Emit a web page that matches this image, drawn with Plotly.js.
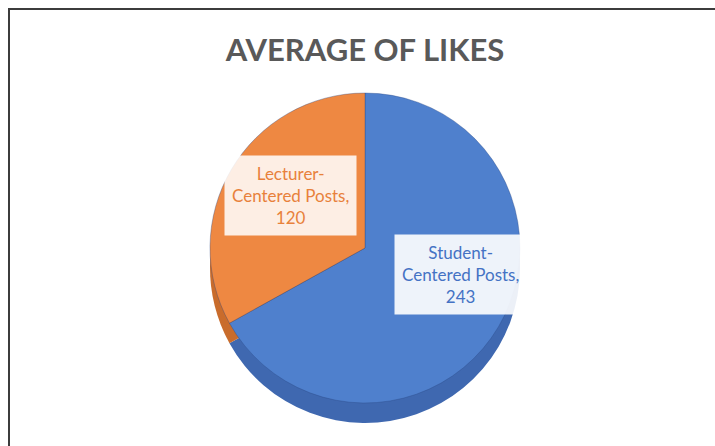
<!DOCTYPE html>
<html>
<head>
<meta charset="utf-8">
<script src="https://cdn.plot.ly/plotly-3.0.1.min.js"></script>
<style>
  html, body { margin: 0; padding: 0; background: #ffffff; }
  #chart { width: 715px; height: 446px; }
</style>
</head>
<body>
<div id="chart"></div>
<script>
// ---- data ----
const categories = ["Student-Centered Posts", "Lecturer-Centered Posts"];
const labelLines = [["Student-", "Centered Posts,"], ["Lecturer-", "Centered Posts,"]];
const avgLikes = [243, 120];
const chartTitle = "AVERAGE OF LIKES";

// ---- styles ----
const topColors = ["#4F80CD", "#EE8842"];
const sideColors = ["#3F68B0", "#C96C2C"];
const textColors = ["#4472C4", "#E8813B"];

const W = 715, H = 446;
const cx = 365, cyTop = 248, diam = 310, depth = 20;
function dom(cy) {
  return {
    x: [(cx - diam / 2) / W, (cx + diam / 2) / W],
    y: [1 - (cy + diam / 2) / H, 1 - (cy - diam / 2) / H]
  };
}

const common = {
  type: "pie",
  labels: categories,
  values: avgLikes,
  sort: false,
  direction: "clockwise",
  rotation: 0,
  textinfo: "none",
  hoverinfo: "label+value",
  showlegend: false
};

const sideTrace = Object.assign({}, common, {
  domain: dom(cyTop + depth),
  marker: { colors: sideColors, line: { width: 0 } }
});
const faceTrace = Object.assign({}, common, {
  domain: dom(cyTop),
  marker: { colors: topColors, line: { color: "rgba(40,70,130,0.35)", width: 1 } }
});

const labelPos = [[461 / W, 1 - 274 / H], [290 / W, 1 - 196 / H]];
const annotations = categories.map((c, i) => ({
  xref: "paper", yref: "paper",
  x: labelPos[i][0], y: labelPos[i][1],
  xanchor: "center", yanchor: "middle",
  showarrow: false,
  text: labelLines[i].join("<br>") + "<br>" + avgLikes[i],
  font: { family: "Lato, 'Noto Sans', sans-serif", size: 17, color: textColors[i] },
  align: "center",
  bgcolor: i === 0 ? "rgba(255,255,255,0.9)" : "rgba(255,255,255,0.86)",
  borderpad: 7
}));

const layout = {
  width: W, height: H,
  margin: { l: 0, r: 0, t: 0, b: 0 },
  paper_bgcolor: "#ffffff",
  title: {
    text: "<b>" + chartTitle + "</b>",
    x: 365 / W, xanchor: "center",
    y: 1 - 50 / H, yanchor: "middle", yref: "container",
    font: { family: "Lato, 'Noto Sans', sans-serif", size: 31, color: "#595959" }
  },
  annotations: annotations,
  shapes: [
    { type: "line", xref: "paper", yref: "paper", x0: 8 / W, x1: 1, y0: 1 - 9 / H, y1: 1 - 9 / H,
      line: { color: "#3c3c3c", width: 2 } },
    { type: "line", xref: "paper", yref: "paper", x0: 9 / W, x1: 9 / W, y0: 0, y1: 1 - 8 / H,
      line: { color: "#3c3c3c", width: 2 } }
  ]
};

Plotly.newPlot("chart", [sideTrace, faceTrace], layout, { displayModeBar: false, staticPlot: true });
</script>
</body>
</html>
